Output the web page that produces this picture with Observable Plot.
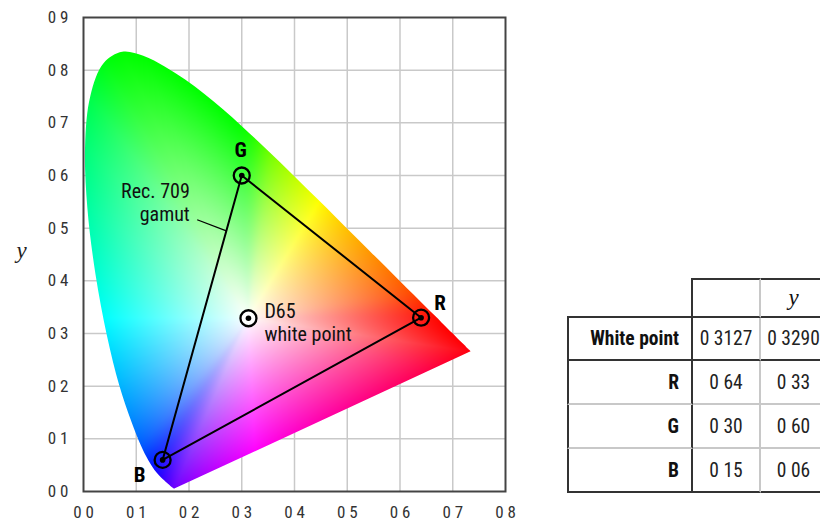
<!DOCTYPE html>
<html>
<head>
<meta charset="utf-8">
<script src="https://cdn.jsdelivr.net/npm/d3@7"></script>
<script src="https://cdn.jsdelivr.net/npm/@observablehq/plot@0.6"></script>
<style>
  body { margin: 0; background: #fff; }
  #wrap { position: relative; width: 820px; height: 523px; overflow: hidden;
          font-family: "Roboto Condensed", "Roboto", sans-serif; font-stretch: condensed; }
  #chart { position: absolute; left: 0; top: 0; }
  #chart svg { display: block; }
  table { position: absolute; left: 567px; top: 278px; border-collapse: separate; border-spacing: 0;
          table-layout: fixed; width: 261px; font-size: 19.5px; color: #111; }
  td { padding: 0; box-sizing: border-box; white-space: nowrap; }
  td.name { text-align: right; padding-right: 12px; font-weight: bold; }
  td.val { text-align: center; color: #222; }
  td.hy { text-align: center; font-family: "Liberation Serif", "DejaVu Serif", serif; font-style: italic; font-size: 23px; font-stretch: normal; }
</style>
</head>
<body>
<div id="wrap">
  <div id="chart"></div>
  <table id="tbl"></table>
</div>
<script>
// CIE 1931 2° spectral locus (wavelength in nm, chromaticity x, y)
const wavelengths = [380,385,390,395,400,405,410,415,420,425,430,435,440,445,450,455,460,465,470,475,480,485,490,495,500,505,510,515,520,525,530,535,540,545,550,555,560,565,570,575,580,585,590,595,600,605,610,615,620,625,630,635,640,645,650,655,660,665,670,680,700];
const locusX = [0.1741,0.1740,0.1738,0.1736,0.1733,0.1730,0.1726,0.1721,0.1714,0.1703,0.1689,0.1669,0.1644,0.1611,0.1566,0.1510,0.1440,0.1355,0.1241,0.1096,0.0913,0.0687,0.0454,0.0235,0.0082,0.0039,0.0139,0.0389,0.0743,0.1142,0.1547,0.1929,0.2296,0.2658,0.3016,0.3373,0.3731,0.4087,0.4441,0.4788,0.5125,0.5448,0.5752,0.6029,0.6270,0.6482,0.6658,0.6801,0.6915,0.7006,0.7079,0.7140,0.7190,0.7230,0.7260,0.7283,0.7300,0.7311,0.7320,0.7334,0.7347];
const locusY = [0.0050,0.0050,0.0049,0.0049,0.0048,0.0048,0.0048,0.0048,0.0051,0.0058,0.0069,0.0086,0.0109,0.0138,0.0177,0.0227,0.0297,0.0399,0.0578,0.0868,0.1327,0.2007,0.2950,0.4127,0.5384,0.6548,0.7502,0.8120,0.8338,0.8262,0.8059,0.7816,0.7543,0.7243,0.6923,0.6589,0.6245,0.5896,0.5547,0.5202,0.4866,0.4544,0.4242,0.3965,0.3725,0.3514,0.3340,0.3197,0.3083,0.2993,0.2920,0.2859,0.2809,0.2770,0.2740,0.2717,0.2700,0.2689,0.2680,0.2666,0.2653];

// Rec. 709 primaries and D65 white point
const primaryNames = ["R", "G", "B"];
const primaryX = [0.64, 0.30, 0.15];
const primaryY = [0.33, 0.60, 0.06];
const whiteName = "D65\nwhite point";
const whiteX = [0.3127];
const whiteY = [0.3290];
const gamutLabel = "Rec. 709\ngamut";

// Axis ticks
const xTicks = [0, 0.1, 0.2, 0.3, 0.4, 0.5, 0.6, 0.7, 0.8];
const yTicks = [0, 0.1, 0.2, 0.3, 0.4, 0.5, 0.6, 0.7, 0.8, 0.9];

// Table
const tableHeader = ["", "", "y"];
const tableRowNames = ["White point", "R", "G", "B"];
const tableXValues = ["0.3127", "0.64", "0.30", "0.15"];
const tableYValues = ["0.3290", "0.33", "0.60", "0.06"];

// ---------- build ----------
const FONT = '"Roboto Condensed", "Roboto", sans-serif';
const fmt = d => d.toFixed(1).replace(".", " ");
const polygon = locusX.map((x, i) => [x, locusY[i]]);
const primaries = primaryNames.map((name, i) => ({name, x: primaryX[i], y: primaryY[i]}));
const triangle = [...primaries, primaries[0]];
const white = whiteX.map((x, i) => ({name: whiteName, x, y: whiteY[i]}));
const W = [whiteX[0], whiteY[0]];

// sRGB (clamped, max-normalised, gamma-encoded) colour of a chromaticity
function edgeRGB(x, y) {
  const X = x / y, Y = 1, Z = (1 - x - y) / y;
  let r = Math.max(0, 3.2406 * X - 1.5372 * Y - 0.4986 * Z);
  let g = Math.max(0, -0.9689 * X + 1.8758 * Y + 0.0415 * Z);
  let b = Math.max(0, 0.0557 * X - 0.2040 * Y + 1.0570 * Z);
  const m = Math.max(r, g, b) || 1;
  const gam = v => { v /= m; return v <= 0.0031308 ? 12.92 * v : 1.055 * Math.pow(v, 1 / 2.4) - 0.055; };
  return [gam(r), gam(g), gam(b)];
}
// for each direction from the white point: distance to the locus and the colour there
const NB = 2880;
const edgeDist = new Float64Array(NB), rawCol = [];
for (let k = 0; k < NB; ++k) {
  const a = (k + 0.5) / NB * 2 * Math.PI - Math.PI;
  const dx = Math.cos(a), dy = Math.sin(a);
  let best = Infinity;
  for (let i = 0; i < polygon.length; ++i) {
    const P = polygon[i], Q = polygon[(i + 1) % polygon.length];
    const ex = Q[0] - P[0], ey = Q[1] - P[1];
    const den = dx * ey - dy * ex;
    if (Math.abs(den) < 1e-12) continue;
    const wx = P[0] - W[0], wy = P[1] - W[1];
    const s = (wx * ey - wy * ex) / den;
    const u = (wx * dy - wy * dx) / den;
    if (s > 0 && u >= -1e-9 && u <= 1 + 1e-9 && s < best) best = s;
  }
  edgeDist[k] = best;
  rawCol[k] = edgeRGB(W[0] + 0.995 * best * dx, W[1] + 0.995 * best * dy);
}
// soften the hue transitions around the locus (triangular window)
const HW = 56;
const edgeCol = [];
for (let k = 0; k < NB; ++k) {
  const acc = [0, 0, 0]; let wsum = 0;
  for (let j = -HW; j <= HW; ++j) {
    const w = HW + 1 - Math.abs(j);
    const c = rawCol[(k + j + NB) % NB];
    acc[0] += w * c[0]; acc[1] += w * c[1]; acc[2] += w * c[2]; wsum += w;
  }
  const mx = Math.max(acc[0], acc[1], acc[2]) / wsum;
  edgeCol[k] = acc.map(v => v / wsum / mx);
}
function colorAt(x, y) {
  const dx = x - W[0], dy = y - W[1];
  let k = Math.floor((Math.atan2(dy, dx) + Math.PI) / (2 * Math.PI) * NB);
  if (k >= NB) k = NB - 1; if (k < 0) k = 0;
  const t = Math.hypot(dx, dy) / edgeDist[k];
  if (t > 1.08 || y < 0) return null;
  const s = Math.pow(Math.min(1, t), 0.95);
  const c = edgeCol[k];
  const v = c.map(e => Math.round(255 * (1 - s * (1 - e))));
  return `rgb(${v[0]},${v[1]},${v[2]})`;
}

// leader line: from label to a point on the B–G side of the triangle
const tLeader = 0.805;
const leaderEnd = {x: primaryX[2] + tLeader * (primaryX[1] - primaryX[2]), y: primaryY[2] + tLeader * (primaryY[1] - primaryY[2])};

const chart = Plot.plot({
  width: 520,
  height: 523,
  marginLeft: 83,
  marginRight: 15,
  marginTop: 17,
  marginBottom: 32,
  x: {domain: [0, 0.8]},
  y: {domain: [0, 0.9]},
  color: {type: "identity"},
  style: {fontFamily: FONT, fontSize: "16px", color: "#333", background: "transparent", overflow: "visible"},
  marks: [
    Plot.gridX(xTicks.slice(1, -1), {stroke: "#c9c9c9", strokeOpacity: 1, strokeWidth: 1.5}),
    Plot.gridY(yTicks.slice(1, -1), {stroke: "#c9c9c9", strokeOpacity: 1, strokeWidth: 1.5}),
    Plot.raster({
      x1: 0, x2: 0.8, y1: 0, y2: 0.9, pixelSize: 0.5,
      fill: (x, y) => colorAt(x, y),
      fillOpacity: (x, y) => colorAt(x, y) ? 1 : 0
    }),
    Plot.frame({stroke: "#444", strokeWidth: 2}),
    Plot.axisX(xTicks, {tickSize: 0, tickPadding: 14, tickFormat: fmt, label: null, fontSize: 17, fill: "#333"}),
    Plot.axisY(yTicks, {tickSize: 0, tickPadding: 15, tickFormat: fmt, label: null, fontSize: 17, fill: "#333"}),
    Plot.text(["y"], {text: d => d, frameAnchor: "left", y: 0.458, dx: -67, fontFamily: '"Liberation Serif", "DejaVu Serif", serif', fontStyle: "italic", fontSize: 23, fill: "#222"}),
    Plot.line(triangle, {x: "x", y: "y", stroke: "#000", strokeWidth: 2}),
    Plot.link([leaderEnd], {x1: 0.2155, y1: 0.516, x2: "x", y2: "y", stroke: "#000", strokeWidth: 1.3}),
    Plot.text([gamutLabel], {text: d => d, x: 0.2015, y: 0.549, textAnchor: "end", lineHeight: 1.12, fontSize: 20, fill: "#111"}),
    Plot.dot(primaries, {x: "x", y: "y", r: 8, stroke: "#000", strokeWidth: 2.3, fill: "none"}),
    Plot.dot(primaries, {x: "x", y: "y", r: 2.8, fill: "#000"}),
    Plot.dot(white, {x: "x", y: "y", r: 8, stroke: "#000", strokeWidth: 2.3, fill: "#fff"}),
    Plot.dot(white, {x: "x", y: "y", r: 2.8, fill: "#000"}),
    Plot.text(white, {x: "x", y: "y", text: "name", textAnchor: "start", dx: 16, dy: 4, lineHeight: 1.12, fontSize: 20, fill: "#111"}),
    Plot.text(primaries.filter(d => d.name === "G"), {x: "x", y: "y", text: "name", dx: -1, dy: -25, fontSize: 21, fontWeight: "bold", fill: "#000"}),
    Plot.text(primaries.filter(d => d.name === "R"), {x: "x", y: "y", text: "name", dx: 19, dy: -14, fontSize: 21, fontWeight: "bold", fill: "#000"}),
    Plot.text(primaries.filter(d => d.name === "B"), {x: "x", y: "y", text: "name", dx: -23, dy: 15, fontSize: 21, fontWeight: "bold", fill: "#000"})
  ]
});
document.getElementById("chart").appendChild(chart);

// smooth clip of the colour field to the spectral locus (purple line straight)
{
  const svg = chart.tagName.toLowerCase() === "svg" ? chart : chart.querySelector("svg");
  const sx = chart.scale("x"), sy = chart.scale("y");
  const pts = polygon.map(([x, y]) => [sx.apply(x), sy.apply(y)]);
  const d = d3.line().curve(d3.curveCatmullRom.alpha(0.5))(pts) + "Z";
  const ns = "http://www.w3.org/2000/svg";
  const defs = document.createElementNS(ns, "defs");
  const cp = document.createElementNS(ns, "clipPath");
  cp.setAttribute("id", "locus-clip");
  const p = document.createElementNS(ns, "path");
  p.setAttribute("d", d);
  cp.appendChild(p); defs.appendChild(cp);
  svg.insertBefore(defs, svg.firstChild);
  const img = svg.querySelector("image");
  if (img) {
    const grp = img.parentNode;
    const wrapG = document.createElementNS(ns, "g");
    wrapG.setAttribute("clip-path", "url(#locus-clip)");
    grp.parentNode.insertBefore(wrapG, grp);
    wrapG.appendChild(grp);
  }
}

// ---------- table ----------
const DARK = "2px solid #333";
const LIGHT = "2px solid #c8c8c8";
const tbl = document.getElementById("tbl");
const cg = document.createElement("colgroup");
[126, 68, 67].forEach(w => { const c = document.createElement("col"); c.style.width = w + "px"; cg.appendChild(c); });
tbl.appendChild(cg);
const fmtVal = s => s.replace(".", " ");
{
  const tr = document.createElement("tr");
  tr.style.height = "40px";
  tableHeader.forEach((h, j) => {
    const td = document.createElement("td");
    td.textContent = h;
    if (j === 0) { td.style.borderRight = DARK; td.style.borderBottom = DARK; }
    if (j === 1) { td.style.borderTop = DARK; td.style.borderRight = LIGHT; td.style.borderBottom = DARK; }
    if (j === 2) { td.className = "hy"; td.style.borderTop = DARK; td.style.borderRight = DARK; td.style.borderBottom = DARK; }
    tr.appendChild(td);
  });
  tbl.appendChild(tr);
}
tableRowNames.forEach((name, i) => {
  const tr = document.createElement("tr");
  tr.style.height = (i === 0 ? 43 : 44) + "px";
  const bottom = (i === 0 || i === tableRowNames.length - 1) ? DARK : LIGHT;
  const c1 = document.createElement("td");
  c1.className = "name"; c1.textContent = name;
  c1.style.borderLeft = DARK; c1.style.borderRight = DARK; c1.style.borderBottom = bottom;
  const c2 = document.createElement("td");
  c2.className = "val"; c2.textContent = fmtVal(tableXValues[i]);
  c2.style.borderRight = LIGHT; c2.style.borderBottom = bottom;
  const c3 = document.createElement("td");
  c3.className = "val"; c3.textContent = fmtVal(tableYValues[i]);
  c3.style.borderRight = DARK; c3.style.borderBottom = bottom;
  tr.append(c1, c2, c3);
  tbl.appendChild(tr);
});
</script>
</body>
</html>
